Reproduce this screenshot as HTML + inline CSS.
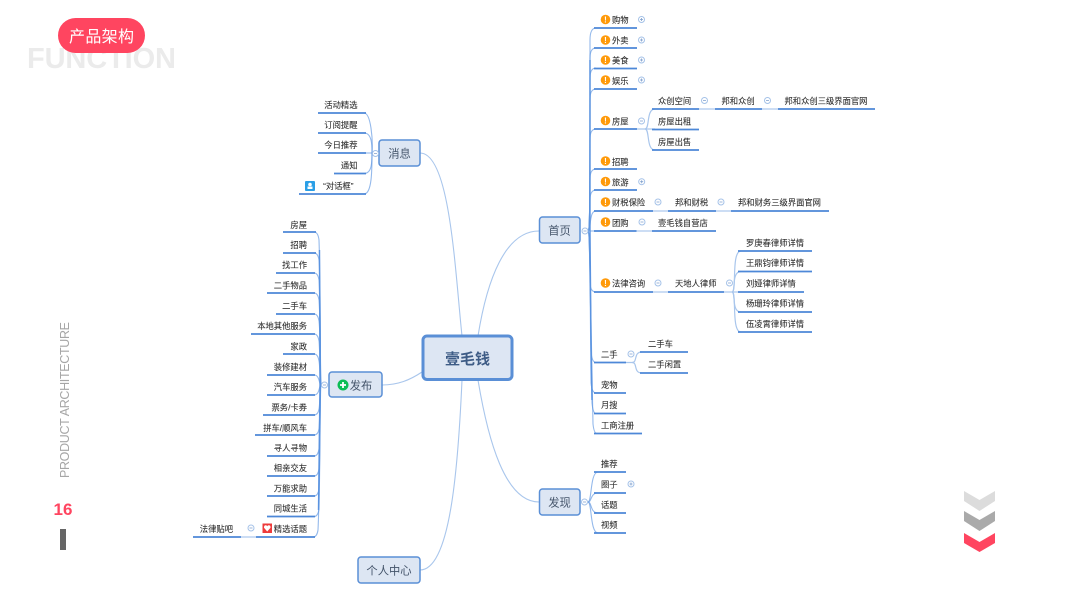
<!DOCTYPE html>
<html><head><meta charset="utf-8"><style>
html,body{margin:0;padding:0;background:#fff;width:1067px;height:600px;overflow:hidden}
svg{display:block}
text{font-family:"Liberation Sans","Noto Sans CJK SC",sans-serif}
.t text{font-size:8.3px;fill:#2f2f2f;stroke:#2f2f2f;stroke-width:.08}
.r text{text-anchor:end}
.u path{fill:none;stroke:#4d88d8;stroke-width:1.7}
.c path{fill:none;stroke:#5b93e0;stroke-width:1.1;stroke-opacity:.65}
.k path{fill:none;stroke:#5b93e0;stroke-width:1.4}
.m path{fill:none;stroke:#a9c6ec;stroke-width:1.1}
.l path{fill:none;stroke:#a9c6ec;stroke-width:1.2}
.b rect{fill:#dde6f3;stroke:#5a8fd6;stroke-width:1.5}
.b text{font-size:11.3px;fill:#44546a;text-anchor:middle}
.o circle{fill:#fff;stroke:#a5c2e8;stroke-width:1}
.o path{stroke:#7f9fcc;stroke-width:.8;fill:none}
.w circle{fill:#ff9a0a}
.w text{font-size:8px;font-weight:bold;fill:#fff;text-anchor:middle}
</style></head><body>
<svg width="1067" height="600" viewBox="0 0 1067 600" xmlns="http://www.w3.org/2000/svg">
<text x="27" y="68" font-size="29" font-weight="bold" fill="#ebebeb" textLength="149" lengthAdjust="spacing">FUNCTION</text>
<rect x="58" y="18" width="87" height="35" rx="17.5" fill="#ff4560"/>
<text x="69" y="42" font-size="16" fill="#fff" textLength="65">产品架构</text>
<text transform="translate(69,478) rotate(-90)" font-size="12.5" fill="#a6a6a6" textLength="156" lengthAdjust="spacing">PRODUCT ARCHITECTURE</text>
<text x="63" y="515" font-size="17" font-weight="bold" fill="#ff4560" text-anchor="middle">16</text>
<rect x="60" y="529" width="6" height="21" fill="#666"/>
<polygon points="964,491 979.5,500 995,491 995,501 979.5,511 964,501" fill="#dcdcdc"/>
<polygon points="964,511 979.5,520 995,511 995,521 979.5,531 964,521" fill="#aaaaaa"/>
<polygon points="964,533 979.5,542 995,533 995,543 979.5,552 964,543" fill="#ff4560"/>

<g class="m">
<path d="M478,336 C487,280 505,231 539,231"/>
<path d="M462,336 C455,270 450,153 420,153"/>
<path d="M422,372 C410,380 398,385 382,385"/>
<path d="M462,380 C458,470 450,570 420,570"/>
<path d="M478,380 C488,440 505,502 539,502"/>
</g>

<g class="k">
<path d="M590,60 L590,231 L591,340 L592,400"/>
<path d="M319.500,250 L320,385 L318.500,510"/>
</g>
<g class="c">
<path d="M588,231 C590,231 590,200 590,40 Q590,28 596,28"/>
<path d="M588,231 C590,231 590,200 590,58 Q590,48 596,48"/>
<path d="M588,231 C590,231 590,200 590,78 Q590,68 596,68"/>
<path d="M588,231 C590,231 590,200 590,99 Q590,89 596,89"/>
<path d="M588,231 C590,231 590,200 590,139 Q590,129 596,129"/>
<path d="M588,231 C590,231 590,215 590,179 Q590,169 596,169"/>
<path d="M588,231 C590,231 590,215 590,200 Q590,190 596,190"/>
<path d="M588,231 C590,231 590,222 591,218 Q592,211 596,211"/>
<path d="M588,231 L596,231"/>
<path d="M588,231 C590,231 590,250 590,282 Q590,292 596,292"/>
<path d="M588,231 C590,231 590,260 591,352 Q592,362.500 596,362.500"/>
<path d="M588,231 C590,231 590,280 591,383 Q592,393 596,393"/>
<path d="M588,231 C590,231 590,280 592,403 Q593,413.500 596,413.500"/>
<path d="M588,231 C590,231 590,280 593,424 Q594,433.500 597,433.500"/>
<path d="M588,502 C592,502 590,472 598,472"/>
<path d="M588,502 C592,502 590,493 598,493"/>
<path d="M588,502 C592,502 590,513 598,513"/>
<path d="M588,502 C592,502 590,533 598,533"/>
<path d="M372,153 C373,140 371,113 364,113"/>
<path d="M372,153 C372,145 372,133 364,133"/>
<path d="M372,153 L364,153"/>
<path d="M372,153 C372,162 372,173.500 364,173.500"/>
<path d="M372,153 C372,170 372,194 364,194"/>
<path d="M321,385 C320,385 321,300 319,240 Q318,232 314,232"/>
<path d="M321,385 C320,385 321,300 319,260 Q318,253 314,253"/>
<path d="M321,385 C320,385 321,320 319,280 Q318,273 314,273"/>
<path d="M321,385 C320,385 321,330 319,300 Q318,293 314,293"/>
<path d="M321,385 C320,385 321,340 319,321 Q318,314 314,314"/>
<path d="M321,385 C320,385 320,350 319,341 Q318,334 314,334"/>
<path d="M321,385 C320,385 320,365 319,361 Q318,354 314,354"/>
<path d="M321,385 C319,385 320,375 314,375"/>
<path d="M321,385 C319,385 320,395 314,395"/>
<path d="M321,385 C320,385 320,405 319,409 Q318,415 314,415"/>
<path d="M321,385 C320,385 320,420 319,429 Q318,435 314,435"/>
<path d="M321,385 C320,385 320,430 319,449 Q318,456 314,456"/>
<path d="M321,385 C320,385 320,440 319,469 Q318,476 314,476"/>
<path d="M321,385 C320,385 320,450 319,489 Q318,496 314,496"/>
<path d="M321,385 C320,385 320,470 319,509 Q318,516.500 314,516.500"/>
<path d="M321,385 C320,385 320,490 318,530 Q317,537 313,537"/>
</g>

<g class="l">
<path d="M637,129 L645,129 C650,129 646,109 655,109"/>
<path d="M645,129 L655,129"/>
<path d="M645,129 C650,129 646,150 655,150"/>
<path d="M699,109 L715,109"/>
<path d="M762,109 L778,109"/>
<path d="M653,211 L668,211"/>
<path d="M716,211 L731,211"/>
<path d="M636,231 L652,231"/>
<path d="M653,292 L668,292"/>
<path d="M724,292 L738,292"/>
<path d="M732,292 C737,292 731,251 741,251"/>
<path d="M732,292 C736,292 731,271.500 741,271.500"/>
<path d="M732,292 C736,292 731,312 741,312"/>
<path d="M732,292 C737,292 731,332 741,332"/>
<path d="M626,362.500 L632,362.500 C638,362.500 633,352 642,352"/>
<path d="M632,362.500 C638,362.500 633,373 642,373"/>
<path d="M241,537 L256,537"/>
</g>

<g class="u">
<path d="M594,28H637M594,48H637M594,68.500H637M594,89H637M594,129H637M594,169H637M594,190H637"/>
<path d="M652,109H699M715,109H762M778,109H875M652,129.500H699M652,150H699"/>
<path d="M594,211H653M668,211H716M731,211H829M594,231H636.500M652,231H716"/>
<path d="M594,292H653M668,292H724M738,251H812M738,271.500H812M738,292H804M738,312H812M738,332H812"/>
<path d="M594,362.500H626M640,352H688M640,373H688M594,393H626M594,413.500H626M594,433.500H642"/>
<path d="M594,472H626M594,493H626M594,513H626M594,533H626"/>
<path d="M318,113H366M318,133H366M318,153H366M334,173.500H366M299,194H366"/>
<path d="M283,232H316M283,253H316M276,273H315M267,293H315M276,314H315M251,334H315M283,354H315M267,375H315M267,395H315M263,415H315M255,435H315M267,456H315M267,476H315M267,496H315M267,516.500H315M256,537H315M193,537H241"/>
</g>

<g class="b">
<rect x="539.500" y="217" width="40.500" height="26" rx="3"/>
<rect x="539.500" y="489" width="40.500" height="26" rx="3"/>
<rect x="379" y="140" width="41" height="26" rx="3"/>
<rect x="329" y="372" width="53" height="25" rx="3"/>
<rect x="358" y="557" width="62" height="26" rx="3"/>
<text x="559.500" y="234.500">首页</text>
<text x="559.500" y="506.500">发现</text>
<text x="399.500" y="157.500">消息</text>
<text x="361" y="389.500">发布</text>
<text x="389" y="574.500">个人中心</text>
</g>
<rect x="423" y="336" width="89" height="43.500" rx="4" fill="#dde6f3" stroke="#5a8fd6" stroke-width="3"/>
<text x="467.500" y="364" font-size="15" font-weight="bold" fill="#3e5c86" text-anchor="middle">壹毛钱</text>

<g class="o">
<circle cx="641.500" cy="19.500" r="3"/><circle cx="641.500" cy="40" r="3"/><circle cx="641.500" cy="60" r="3"/><circle cx="641.500" cy="80" r="3"/><circle cx="641.700" cy="181.700" r="3"/><circle cx="631" cy="484" r="3"/>
<path d="M640,19.500h3M641.500,18v3M640,40h3M641.500,38.500v3M640,60h3M641.500,58.500v3M640,80h3M641.500,78.500v3M640.200,181.700h3M641.700,180.200v3M629.500,484h3M631,482.500v3"/>
<circle cx="641.500" cy="121" r="3"/><circle cx="704.500" cy="100.500" r="3"/><circle cx="767.500" cy="100.500" r="3"/><circle cx="658" cy="202" r="3"/><circle cx="721" cy="202" r="3"/><circle cx="642" cy="222" r="3"/><circle cx="658" cy="283" r="3"/><circle cx="729.500" cy="283" r="3"/><circle cx="631" cy="354" r="3"/><circle cx="251" cy="528" r="3"/>
<circle cx="585" cy="231" r="3"/><circle cx="584.500" cy="502" r="3"/><circle cx="375.500" cy="153.500" r="3"/><circle cx="324.500" cy="385" r="3"/>
<path d="M640,121h3M703,100.500h3M766,100.500h3M656.500,202h3M719.500,202h3M640.500,222h3M656.500,283h3M728,283h3M629.500,354h3M249.500,528h3M583.500,231h3M583,502h3M374,153.500h3M323,385h3"/>
</g>

<g class="w">
<circle cx="605.500" cy="19.500" r="4.800"/><text x="605.500" y="22.400">!</text>
<circle cx="605.500" cy="40" r="4.800"/><text x="605.500" y="42.900">!</text>
<circle cx="605.500" cy="60" r="4.800"/><text x="605.500" y="62.900">!</text>
<circle cx="605.500" cy="80" r="4.800"/><text x="605.500" y="82.900">!</text>
<circle cx="605.500" cy="120.500" r="4.800"/><text x="605.500" y="123.400">!</text>
<circle cx="605.500" cy="161" r="4.800"/><text x="605.500" y="163.900">!</text>
<circle cx="605.500" cy="181.500" r="4.800"/><text x="605.500" y="184.400">!</text>
<circle cx="605.500" cy="202" r="4.800"/><text x="605.500" y="204.900">!</text>
<circle cx="605.500" cy="222" r="4.800"/><text x="605.500" y="224.900">!</text>
<circle cx="605.500" cy="283" r="4.800"/><text x="605.500" y="285.900">!</text>
</g>

<g class="t">
<text x="612" y="23">购物</text><text x="612" y="43.500">外卖</text><text x="612" y="63.500">美食</text><text x="612" y="84">娱乐</text><text x="612" y="124.500">房屋</text><text x="612" y="165">招聘</text><text x="612" y="185.500">旅游</text><text x="612" y="205.500">财税保险</text><text x="612" y="226">团购</text><text x="612" y="286.500">法律咨询</text>
<text x="658" y="104">众创空间</text><text x="721.500" y="104">邦和众创</text><text x="784.500" y="104">邦和众创三级界面官网</text><text x="658" y="124.500">房屋出租</text><text x="658" y="145">房屋出售</text>
<text x="675" y="205.500">邦和财税</text><text x="738" y="205.500">邦和财务三级界面官网</text><text x="658" y="226">壹毛钱自营店</text><text x="675" y="286.500">天地人律师</text>
<text x="746" y="246">罗庚春律师详情</text><text x="746" y="266">王鼎钧律师详情</text><text x="746" y="286.500">刘娅律师详情</text><text x="746" y="306.500">杨珊玲律师详情</text><text x="746" y="327">伍凌霄律师详情</text>
<text x="601" y="357.500">二手</text><text x="648" y="347">二手车</text><text x="648" y="367.500">二手闲置</text><text x="601" y="388">宠物</text><text x="601" y="408">月搜</text><text x="601" y="428.500">工商注册</text>
<text x="601" y="467">推荐</text><text x="601" y="487.500">圈子</text><text x="601" y="508">话题</text><text x="601" y="528">视频</text>
</g>
<g class="t r">
<text x="357.500" y="108">活动精选</text><text x="357.500" y="128">订阅提醒</text><text x="357.500" y="148">今日推荐</text><text x="357.500" y="168.500">通知</text><text x="353.500" y="189">“对话框”</text>
<text x="307" y="228">房屋</text><text x="307" y="248">招聘</text><text x="307" y="268">找工作</text><text x="307" y="288.500">二手物品</text><text x="307" y="309">二手车</text><text x="307" y="329">本地其他服务</text><text x="307" y="349.500">家政</text><text x="307" y="370">装修建材</text><text x="307" y="390">汽车服务</text><text x="307" y="410.500">票务/卡券</text><text x="307" y="431">拼车/顺风车</text><text x="307" y="451">寻人寻物</text><text x="307" y="471">相亲交友</text><text x="307" y="491.500">万能求助</text><text x="307" y="511.500">同城生活</text><text x="307" y="532">精选话题</text><text x="233" y="532">法律贴吧</text>
</g>

<rect x="305" y="181" width="10" height="10" rx="1" fill="#2b9fe6"/>
<circle cx="310" cy="184.500" r="1.800" fill="#fff"/><rect x="307.500" y="186.500" width="5" height="2.500" fill="#fff"/>
<circle cx="343" cy="385" r="5.500" fill="#0dbd55"/>
<path d="M340,385h6M343,382v6" stroke="#fff" stroke-width="1.800"/>
<rect x="262.500" y="523.500" width="9.500" height="9.500" fill="#ee3b3b"/>
<path d="M267.200,531.500 L264,527.800 Q263.800,525.200 265.800,525.200 Q266.800,525.200 267.200,526.200 Q267.700,525.200 268.700,525.200 Q270.700,525.200 270.500,527.800 Z" fill="#fff"/>
</svg>
</body></html>
